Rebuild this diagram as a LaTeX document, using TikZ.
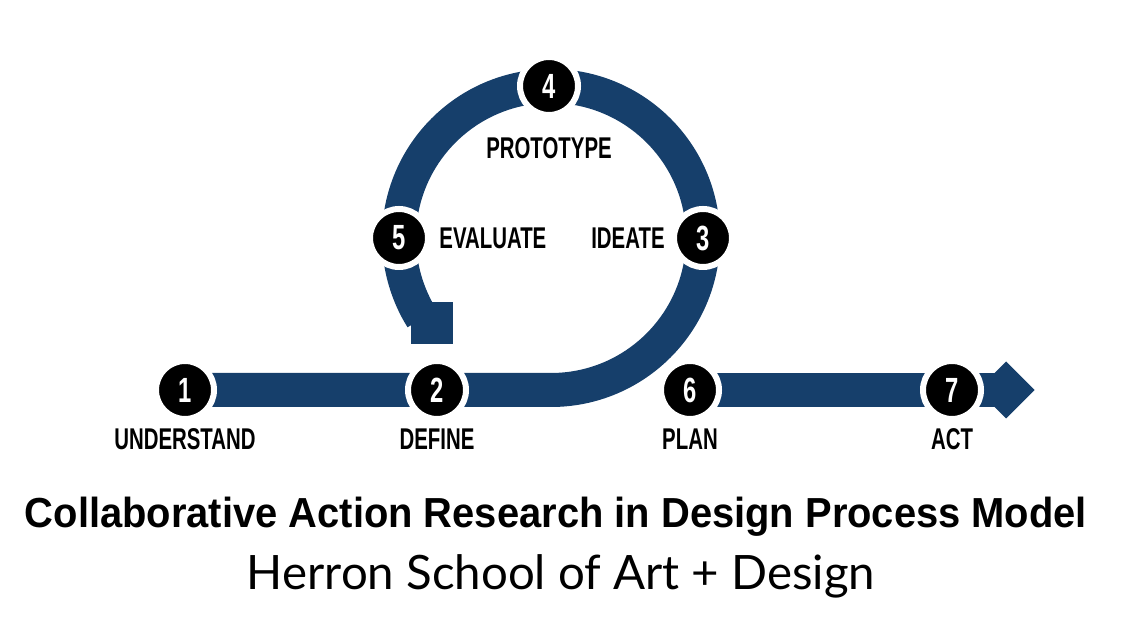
\documentclass[tikz,border=0pt]{standalone}
\usepackage{fontspec}
\newfontfamily\stepfont{Liberation Sans}[FakeStretch=0.68]
\newfontfamily\titlefont{Liberation Sans}[FakeStretch=0.95]
\newfontfamily\subfont{Lato}
\usetikzlibrary{positioning,backgrounds,shapes.geometric}
\definecolor{navy}{HTML}{163F6B}

\begin{document}
\begin{tikzpicture}[x=0.5pt,y=0.5pt,node distance=4.5pt,
    num/.style={circle,fill=black,draw=white,line width=3pt,minimum size=29pt,
      inner sep=0pt,outer sep=0pt,text=white,
      font=\stepfont\bfseries\fontsize{17.5}{17.5}\selectfont},
    lab/.style={inner sep=0pt,font=\stepfont\bfseries\fontsize{15}{15}\selectfont},
    band/.style={draw=navy,line width=17pt},
    head/.style={fill=navy,inner sep=0pt,outer sep=0pt}]
    \useasboundingbox (0,0) rectangle (1123,619);
    \node[num] (n1) at (185,229) {1};
    \node[num] (n2) at (437,229) {2};
    \node[num] (n3) at (703,381) {3};
    \node[num] (n4) at (549,533) {4};
    \node[num] (n5) at (399,381) {5};
    \node[num] (n6) at (690,229) {6};
    \node[num] (n7) at (952,229) {7};
    \coordinate (loop) at (551,381);
    \node[lab,below=of n1] (understand) {UNDERSTAND};
    \node[lab,below=of n2] (define) {DEFINE};
    \node[lab,below=of n6] (plan) {PLAN};
    \node[lab,below=of n7] (act) {ACT};
    \node[lab,left=of n3] (ideate) {IDEATE};
    \node[lab,below=11pt of n4] (prototype) {PROTOTYPE};
    \node[lab,right=5.5pt of n5] (evaluate) {EVALUATE};
    \node[anchor=base,font=\titlefont\bfseries\fontsize{21}{21}\selectfont] (title) at (556,91)
      {Collaborative Action Research in Design Process Model};
    \node[anchor=base,font=\subfont\fontsize{23.7}{23.7}\selectfont] (school) at (561,29)
      {Herron School of Art + Design};
    \begin{scope}[on background layer]
      \node[head,diamond,minimum size=28.5pt] (tip7) at (1006,229) {};
      \node[head,rectangle,minimum size=21pt] (tip5) at (432,296) {};
      \draw[band] (n1.center) -- (n2.center) -- (loop |- n2)
        arc[start angle=-90,end angle=212,radius=152];
      \draw[band] (n6.center) -- (tip7.center);
    \end{scope}
\end{tikzpicture}
\end{document}
